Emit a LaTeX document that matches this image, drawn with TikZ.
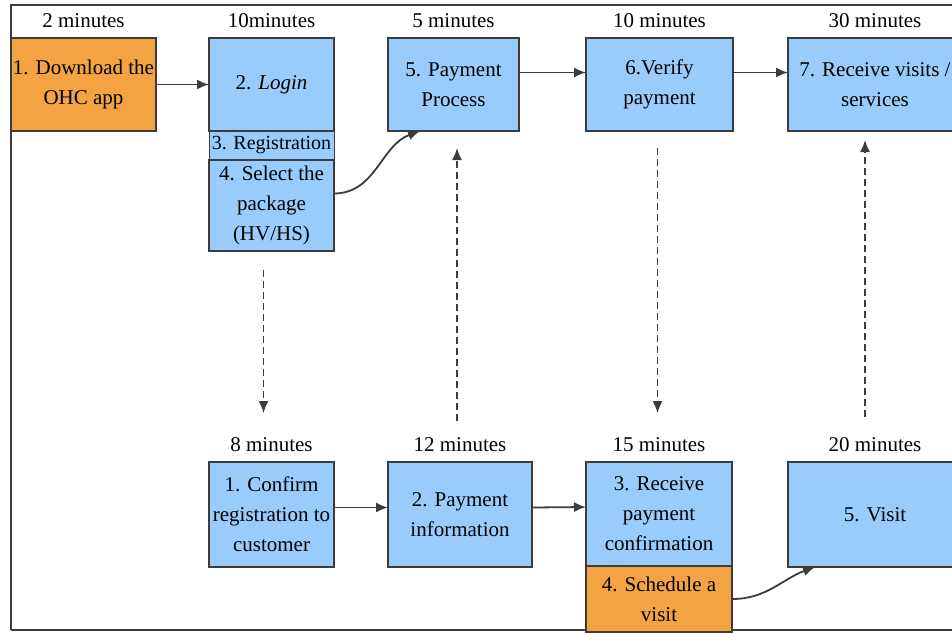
\documentclass[tikz,border=0pt]{standalone}
\usepackage{fontspec}
\setmainfont{LiberationSerif}[Extension=.ttf,UprightFont=*-Regular,ItalicFont=*-Italic,BoldFont=*-Bold,BoldItalicFont=*-BoldItalic]
\usepackage{tikz}
\usetikzlibrary{positioning,arrows.meta}
\definecolor{boxblue}{RGB}{153,204,250}
\definecolor{boxorange}{RGB}{243,163,66}
\definecolor{edge}{RGB}{60,60,60}
\tikzset{
  stage/.style={draw=edge,line width=1.3pt,fill=boxblue,align=center,inner sep=1pt,outer sep=0pt,font=\fontsize{10.5}{15}\selectfont},
  hot/.style={stage,fill=boxorange},
  mins/.style={above,inner sep=2pt,yshift=3pt,font=\fontsize{10.5}{12}\selectfont},
  flow/.style={draw=edge,line width=0.9pt,-{Latex[length=6pt,width=5pt]}},
  dflow/.style={flow,dash pattern=on 3.5pt off 2pt},
}

\begin{document}
\begin{tikzpicture}[x=0.5pt,y=0.5pt]
    \useasboundingbox (0,0) rectangle (952,-632);
    \draw[edge,line width=0.8pt](11,-630)--(11,-5)--(960,-5);
    \draw[edge,line width=0.8pt](11,-630)--(960,-630);
    % top row
    \node[hot,minimum width=72.5pt,minimum height=46.5pt](dl) at (83.5,-84.5){1. Download the\\OHC app};
    \node[stage,minimum width=62.5pt,minimum height=46.5pt](login) at (271.5,-84.5){2. \textit{Login}};
    \node[stage,line width=0.5pt,inner xsep=0pt,font=\fontsize{10}{15}\selectfont,minimum width=62.5pt,minimum height=14.5pt,below=0pt of login](reg){3. Registration};
    \node[stage,minimum width=62.5pt,minimum height=45.5pt,below=0pt of reg](pkg){4. Select the\\package\\(HV/HS)};
    \node[stage,minimum width=65.5pt,minimum height=46.5pt](pay) at (453.5,-84.5){5. Payment\\Process};
    \node[stage,minimum width=73.5pt,minimum height=46.5pt](verify) at (659.5,-84.5){6.Verify\\payment};
    \node[stage,minimum width=87pt,minimum height=46.5pt](recv) at (875,-84.5){7. Receive visits /\\services};
    % bottom row
    \node[stage,minimum width=62.5pt,minimum height=52.5pt](confirm) at (271.5,-514.5){1. Confirm\\registration to\\customer};
    \node[stage,minimum width=72pt,minimum height=52.5pt](payinfo) at (460,-514.5){2. Payment\\information};
    \node[stage,minimum width=73pt,minimum height=52pt](rcvconf) at (659,-514){3. Receive\\payment\\confirmation};
    \node[hot,minimum width=73pt,minimum height=33pt,below=0pt of rcvconf](sched){4. Schedule a\\visit};
    \node[stage,minimum width=87pt,minimum height=52.5pt](visit) at (875,-514.5){5. Visit};
    % times
    \node[mins](t2) at (dl.north){2 minutes};
    \node[mins](t10a) at (login.north){10minutes};
    \node[mins](t5) at (pay.north){5 minutes};
    \node[mins](t10b) at (verify.north){10 minutes};
    \node[mins](t30) at (recv.north){30 minutes};
    \node[mins](t8) at (confirm.north){8 minutes};
    \node[mins](t12) at (payinfo.north){12 minutes};
    \node[mins](t15) at (rcvconf.north){15 minutes};
    \node[mins](t20) at (visit.north){20 minutes};
    % connectors
    \draw[flow](dl)--(login);
    \draw[flow]([yshift=6pt]pay.east)--([yshift=6pt]verify.west);
    \draw[flow]([yshift=6pt]verify.east)--([yshift=6pt]recv.west);
    \draw[flow]([yshift=3.5pt]confirm.east)--([yshift=3.5pt]payinfo.west);
    \draw[flow]([yshift=3.5pt]payinfo.east)--([yshift=3.5pt]rcvconf.west);
    \draw[flow]([yshift=6pt]pkg.east)to[out=0,in=200]([xshift=16pt]pay.south west);
    \draw[flow](sched.east)to[out=0,in=200]([xshift=13.5pt]visit.south west);
    \draw[dflow,shorten <=9.5pt,shorten >=10pt]([xshift=-4pt]pkg.south)--([xshift=-4pt]pkg.south|-t8.north);
    \draw[dflow,shorten <=6pt,shorten >=8.5pt]([xshift=-1.5pt]t12.north)--([xshift=-1.5pt]t12.north|-pay.south);
    \draw[dflow,shorten <=8.5pt,shorten >=10pt]([xshift=-1pt]verify.south)--([xshift=-1pt]verify.south|-t15.north);
    \draw[dflow,shorten <=8pt,shorten >=4.5pt]([xshift=-5pt]t20.north)--([xshift=-5pt]t20.north|-recv.south);
  \end{tikzpicture}
\end{document}
